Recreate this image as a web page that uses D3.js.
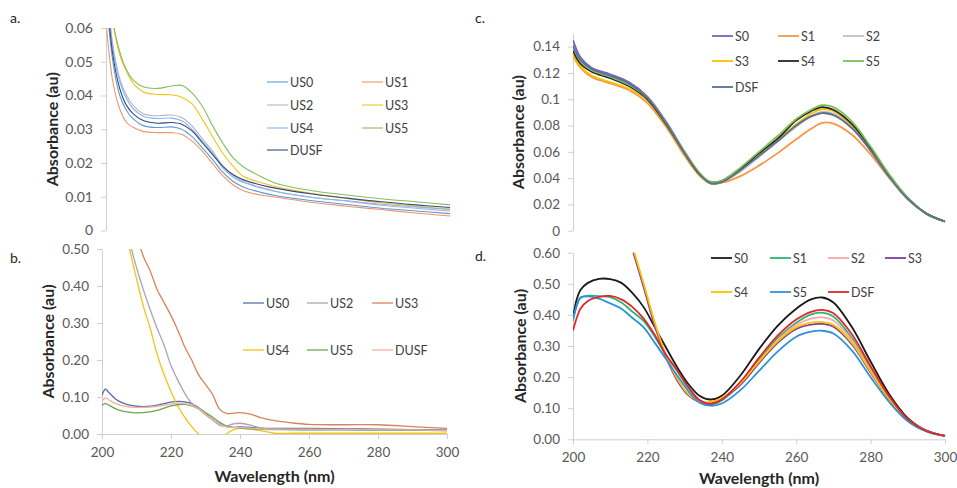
<!DOCTYPE html>
<html>
<head>
<meta charset="UTF-8">
<title>Absorbance spectra</title>
<script src="https://cdnjs.cloudflare.com/ajax/libs/d3/7.8.5/d3.min.js"></script>
<style>
body { margin: 0; background: #fff; }
svg text { font-family: Lato, "Open Sans", sans-serif; }
</style>
</head>
<body>
<svg id="chart" width="957" height="488"></svg>
<script>
// ---- panel a ----
var wlA = [200, 202, 204, 206, 208, 211, 215, 219, 222, 225, 228, 231, 234, 237, 240, 245, 250, 260, 270, 280, 290, 300];
var aUS0 = [0.070, 0.050, 0.040, 0.0355, 0.033, 0.031, 0.0305, 0.0307, 0.030, 0.0278, 0.0245, 0.021, 0.0172, 0.0145, 0.0128, 0.0113, 0.0102, 0.0088, 0.0077, 0.0066, 0.0058, 0.0050];
var aUS1 = [0.062, 0.044, 0.036, 0.032, 0.0305, 0.0293, 0.029, 0.029, 0.0285, 0.0265, 0.0235, 0.0198, 0.0162, 0.0135, 0.0118, 0.0105, 0.0098, 0.0083, 0.0072, 0.0062, 0.0052, 0.0043];
var aUS2 = [0.075, 0.055, 0.045, 0.040, 0.037, 0.0345, 0.034, 0.0342, 0.0335, 0.031, 0.0272, 0.0235, 0.019, 0.0162, 0.0145, 0.0128, 0.0115, 0.0098, 0.0087, 0.0075, 0.0066, 0.0058];
var aUS3 = [0.085, 0.062, 0.052, 0.047, 0.0435, 0.041, 0.0403, 0.0402, 0.0395, 0.0375, 0.033, 0.0278, 0.0228, 0.019, 0.016, 0.0142, 0.0128, 0.011, 0.0095, 0.0082, 0.0072, 0.0064];
var aUS4 = [0.075, 0.054, 0.044, 0.039, 0.036, 0.0338, 0.0332, 0.0333, 0.0325, 0.030, 0.0265, 0.0228, 0.0185, 0.0158, 0.0142, 0.0126, 0.0114, 0.0098, 0.0088, 0.0078, 0.007, 0.0062];
var aUS5 = [0.085, 0.062, 0.053, 0.0475, 0.0445, 0.0425, 0.0421, 0.0428, 0.043, 0.0408, 0.0368, 0.031, 0.0258, 0.0215, 0.0188, 0.016, 0.0138, 0.0118, 0.0105, 0.0094, 0.0085, 0.0076];
var aDUSF = [0.072, 0.052, 0.042, 0.037, 0.0345, 0.0325, 0.0318, 0.032, 0.0315, 0.0295, 0.026, 0.0225, 0.019, 0.0165, 0.015, 0.0135, 0.0124, 0.0108, 0.0096, 0.0085, 0.0076, 0.0068];
var namesA = ["US0", "US1", "US2", "US3", "US4", "US5", "DUSF"];
var colorsA = ["#5b9bd5", "#f0956a", "#b4b4c8", "#f2c31c", "#8ab6e6", "#86bd5e", "#34497f"];
var ticksA = [0, 0.01, 0.02, 0.03, 0.04, 0.05, 0.06];
var tickLabelsA = ["0", "0.01", "0.02", "0.03", "0.04", "0.05", "0.06"];

// ---- panel b ----
var wlB = [200, 201, 202, 204, 206, 208, 210, 212, 214, 216, 218, 220, 222, 224, 226, 228, 230, 232, 234, 236, 238, 240, 243, 246, 250, 255, 260, 270, 280, 290, 300];
var bUS0 = [0.105, 0.121, 0.112, 0.094, 0.084, 0.078, 0.075, 0.074, 0.075, 0.078, 0.082, 0.086, 0.088, 0.087, 0.082, 0.071, 0.057, 0.040, 0.027, 0.020, 0.018, 0.019, 0.018, 0.016, 0.015, 0.015, 0.015, 0.014, 0.013, 0.012, 0.011];
var bUS2 = [1.0, 0.9, 0.82, 0.70, 0.60, 0.52, 0.45, 0.39, 0.335, 0.285, 0.24, 0.185, 0.145, 0.11, 0.083, 0.068, 0.052, 0.038, 0.024, 0.022, 0.027, 0.029, 0.024, 0.016, 0.013, 0.012, 0.012, 0.012, 0.011, 0.010, 0.009];
var bUS3 = [1.0, 0.95, 0.9, 0.8, 0.7, 0.62, 0.54, 0.48, 0.44, 0.39, 0.355, 0.32, 0.28, 0.235, 0.2, 0.16, 0.134, 0.108, 0.068, 0.056, 0.056, 0.058, 0.054, 0.044, 0.036, 0.03, 0.026, 0.025, 0.025, 0.02, 0.015];
var bUS4 = [1.0, 0.9, 0.82, 0.70, 0.60, 0.50, 0.42, 0.345, 0.285, 0.215, 0.16, 0.115, 0.075, 0.045, 0.02, 0.0, -0.015, -0.02, -0.015, 0.0, 0.011, 0.015, 0.013, 0.009, 0.002, 0.002, 0.002, 0.002, 0.002, 0.002, 0.002];
var bUS5 = [0.078, 0.082, 0.078, 0.068, 0.062, 0.059, 0.057, 0.058, 0.060, 0.064, 0.070, 0.076, 0.079, 0.080, 0.076, 0.068, 0.058, 0.046, 0.032, 0.022, 0.018, 0.016, 0.014, 0.013, 0.012, 0.012, 0.011, 0.011, 0.010, 0.010, 0.009];
var bDUSF = [0.090, 0.097, 0.092, 0.082, 0.076, 0.073, 0.072, 0.072, 0.073, 0.075, 0.078, 0.081, 0.083, 0.082, 0.078, 0.068, 0.055, 0.040, 0.027, 0.020, 0.017, 0.017, 0.016, 0.014, 0.013, 0.013, 0.013, 0.012, 0.011, 0.011, 0.010];
var namesB = ["US0", "US2", "US3", "US4", "US5", "DUSF"];
var colorsB = ["#5470a8", "#a6a6ba", "#d9825b", "#f0c419", "#6aa84f", "#f4b0a0"];
var ticksB = [0, 0.1, 0.2, 0.3, 0.4, 0.5];
var tickLabelsB = ["0.00", "0.10", "0.20", "0.30", "0.40", "0.50"];

// ---- panel c ----
var wlC = [200, 202, 205, 210, 215, 220, 225, 230, 234, 237, 240, 245, 250, 255, 260, 264, 267, 270, 275, 280, 285, 290, 295, 300];
var cS0 = [0.145, 0.132, 0.124, 0.119, 0.113, 0.102, 0.083, 0.060, 0.043, 0.036, 0.037, 0.046, 0.057, 0.068, 0.080, 0.087, 0.0895, 0.088, 0.078, 0.061, 0.041, 0.024, 0.013, 0.007];
var cS1 = [0.133, 0.124, 0.117, 0.112, 0.107, 0.097, 0.079, 0.057, 0.042, 0.036, 0.0365, 0.0415, 0.0495, 0.059, 0.0695, 0.0775, 0.082, 0.0815, 0.073, 0.058, 0.040, 0.024, 0.013, 0.007];
var cS2 = [0.138, 0.128, 0.122, 0.117, 0.111, 0.101, 0.082, 0.059, 0.043, 0.036, 0.037, 0.045, 0.056, 0.068, 0.079, 0.087, 0.0905, 0.089, 0.079, 0.062, 0.041, 0.024, 0.013, 0.007];
var cS3 = [0.134, 0.125, 0.118, 0.113, 0.108, 0.099, 0.080, 0.058, 0.042, 0.036, 0.037, 0.046, 0.058, 0.069, 0.081, 0.089, 0.0925, 0.091, 0.080, 0.063, 0.042, 0.025, 0.013, 0.007];
var cS4 = [0.137, 0.127, 0.121, 0.116, 0.110, 0.100, 0.081, 0.059, 0.043, 0.037, 0.038, 0.047, 0.059, 0.070, 0.084, 0.091, 0.094, 0.092, 0.081, 0.063, 0.042, 0.025, 0.013, 0.007];
var cS5 = [0.140, 0.129, 0.122, 0.117, 0.111, 0.101, 0.082, 0.060, 0.044, 0.037, 0.038, 0.048, 0.060, 0.072, 0.085, 0.092, 0.0955, 0.094, 0.083, 0.064, 0.043, 0.025, 0.013, 0.007];
var cDSF = [0.141, 0.130, 0.123, 0.118, 0.112, 0.101, 0.082, 0.059, 0.043, 0.036, 0.037, 0.046, 0.057, 0.068, 0.080, 0.087, 0.0895, 0.088, 0.078, 0.061, 0.041, 0.024, 0.013, 0.007];
var namesC = ["S0", "S1", "S2", "S3", "S4", "S5", "DSF"];
var colorsC = ["#7f5fc4", "#f79646", "#c0c0c0", "#ffc000", "#262626", "#7cc05a", "#5a7190"];
var ticksC = [0, 0.02, 0.04, 0.06, 0.08, 0.1, 0.12, 0.14];
var tickLabelsC = ["0", "0.02", "0.04", "0.06", "0.08", "0.1", "0.12", "0.14"];

// ---- panel d ----
var wlD = [200, 201, 202, 204, 207, 210, 213, 216, 219, 222, 225, 228, 231, 234, 237, 240, 245, 250, 255, 260, 264, 267, 270, 275, 280, 285, 290, 295, 300];
var dS0 = [0.39, 0.45, 0.48, 0.503, 0.516, 0.515, 0.503, 0.47, 0.425, 0.36, 0.295, 0.232, 0.178, 0.14, 0.128, 0.14, 0.205, 0.29, 0.365, 0.42, 0.45, 0.456, 0.44, 0.36, 0.25, 0.145, 0.068, 0.028, 0.011];
var dS1 = [0.38, 0.43, 0.455, 0.462, 0.46, 0.457, 0.44, 0.41, 0.38, 0.33, 0.27, 0.22, 0.165, 0.125, 0.113, 0.125, 0.18, 0.255, 0.325, 0.375, 0.402, 0.407, 0.395, 0.325, 0.228, 0.135, 0.064, 0.027, 0.011];
var dS2 = [1.3, 1.25, 1.2, 1.1, 0.96, 0.85, 0.73, 0.61, 0.49, 0.365, 0.265, 0.19, 0.142, 0.12, 0.118, 0.13, 0.178, 0.25, 0.318, 0.368, 0.388, 0.392, 0.382, 0.318, 0.222, 0.131, 0.062, 0.026, 0.011];
var dS3 = [1.3, 1.25, 1.2, 1.1, 0.96, 0.85, 0.73, 0.61, 0.49, 0.365, 0.265, 0.19, 0.142, 0.12, 0.118, 0.13, 0.175, 0.245, 0.31, 0.355, 0.369, 0.371, 0.362, 0.305, 0.215, 0.128, 0.061, 0.026, 0.011];
var dS4 = [1.32, 1.27, 1.22, 1.12, 0.98, 0.87, 0.745, 0.62, 0.50, 0.375, 0.27, 0.195, 0.145, 0.122, 0.12, 0.133, 0.18, 0.25, 0.315, 0.36, 0.375, 0.377, 0.368, 0.31, 0.218, 0.13, 0.062, 0.026, 0.011];
var dS5 = [0.385, 0.43, 0.455, 0.46, 0.452, 0.437, 0.42, 0.39, 0.36, 0.31, 0.258, 0.205, 0.155, 0.118, 0.108, 0.115, 0.158, 0.22, 0.282, 0.33, 0.346, 0.349, 0.34, 0.285, 0.2, 0.12, 0.058, 0.025, 0.01];
var dDSF = [0.35, 0.39, 0.42, 0.445, 0.458, 0.461, 0.45, 0.425, 0.388, 0.335, 0.272, 0.222, 0.168, 0.126, 0.114, 0.128, 0.185, 0.262, 0.333, 0.385, 0.41, 0.416, 0.405, 0.337, 0.235, 0.138, 0.064, 0.027, 0.011];
var namesD = ["S0", "S1", "S2", "S3", "S4", "S5", "DSF"];
var colorsD = ["#1a1a1a", "#2bb673", "#f7a8a8", "#7b3f9e", "#ffc000", "#2d93d8", "#e3262c"];
var ticksD = [0, 0.1, 0.2, 0.3, 0.4, 0.5, 0.6];
var tickLabelsD = ["0.00", "0.10", "0.20", "0.30", "0.40", "0.50", "0.60"];

var xTicks = [200, 220, 240, 260, 280, 300];

var svg = d3.select("#chart");

function drawPanel(p) {
	var x = d3.scaleLinear().domain([200, 300]).range([p.left, p.right]);
	var y = d3.scaleLinear().domain([0, p.ymax]).range([p.bottom, p.top]);

	var clipId = "clip" + p.id;
	svg.append("clipPath").attr("id", clipId)
		.append("rect")
		.attr("x", p.left).attr("y", p.top)
		.attr("width", p.right - p.left + 2).attr("height", p.bottom - p.top);

	// y axis
	var yAxis = d3.axisLeft(y)
		.tickValues(p.ticks)
		.tickFormat(function(d, i) { return p.tickLabels[i]; })
		.tickSize(5).tickSizeOuter(0).tickPadding(8);
	var gy = svg.append("g").attr("transform", "translate(" + p.left + ",0)").call(yAxis);
	gy.select(".domain").attr("stroke", "#d0d0d0");
	gy.selectAll(".tick line").attr("stroke", "#d0d0d0");
	gy.selectAll(".tick text").attr("fill", "#595959").style("font-size", p.tickFont + "px");

	// x axis only on the bottom panels
	if (p.xAxis) {
		var xAxis = d3.axisBottom(x).tickValues(xTicks).tickSize(5).tickSizeOuter(0).tickPadding(8);
		var gx = svg.append("g").attr("transform", "translate(0," + p.bottom + ")").call(xAxis);
		gx.select(".domain").attr("stroke", "#d0d0d0");
		gx.selectAll(".tick line").attr("stroke", "#d0d0d0");
		gx.selectAll(".tick text").attr("fill", "#595959").style("font-size", p.tickFont + "px");
		svg.append("text")
			.attr("x", (p.left + p.right) / 2).attr("y", p.xTitleY)
			.attr("text-anchor", "middle")
			.attr("fill", "#262626").style("font-size", "16px").style("font-weight", "bold")
			.text("Wavelength (nm)");
	}

	svg.append("text")
		.attr("transform", "translate(" + p.yTitleX + "," + ((p.top + p.bottom) / 2) + ") rotate(-90)")
		.attr("text-anchor", "middle")
		.attr("fill", "#262626").style("font-size", "16px").style("font-weight", "bold")
		.text("Absorbance (au)");

	svg.append("text")
		.attr("x", p.labelX).attr("y", p.labelY)
		.attr("fill", "#262626").style("font-size", "14px")
		.text(p.label);

	var line = d3.line()
		.x(function(d) { return x(d[0]); })
		.y(function(d) { return y(d[1]); })
		.curve(d3.curveCatmullRom.alpha(0.5));

	var g = svg.append("g").attr("clip-path", "url(#" + clipId + ")");
	p.series.forEach(function(s, i) {
		g.append("path")
			.datum(s.map(function(v, j) { return [p.wl[j], v]; }))
			.attr("fill", "none")
			.attr("stroke", p.colors[i])
			.attr("stroke-width", p.lineWidth)
			.attr("d", line);
	});

	// legend
	p.names.forEach(function(n, i) {
		var col = i % p.legCols.length, row = Math.floor(i / p.legCols.length);
		var lx = p.legCols[col], ly = p.legRows[row];
		svg.append("line")
			.attr("x1", lx).attr("x2", lx + 21).attr("y1", ly).attr("y2", ly)
			.attr("stroke", p.colors[i]).attr("stroke-width", p.lineWidth);
		svg.append("text")
			.attr("x", lx + 23).attr("y", ly).attr("dy", "0.36em")
			.attr("fill", "#404040").style("font-size", "12.5px")
			.text(n);
	});
}

drawPanel({
	id: "a", label: "a.", labelX: 10, labelY: 23,
	left: 106, right: 450, top: 28, bottom: 230.5, ymax: 0.06,
	ticks: ticksA, tickLabels: tickLabelsA, tickFont: 14, xAxis: false,
	yTitleX: 58, wl: wlA,
	series: [aUS0, aUS1, aUS2, aUS3, aUS4, aUS5, aDUSF],
	names: namesA, colors: colorsA, lineWidth: 1.1,
	legCols: [267, 362], legRows: [82, 105, 128, 150]
});

drawPanel({
	id: "b", label: "b.", labelX: 10, labelY: 263,
	left: 102, right: 447, top: 249, bottom: 434, ymax: 0.5,
	ticks: ticksB, tickLabels: tickLabelsB, tickFont: 13.5, xAxis: true, xTitleY: 482,
	yTitleX: 54, wl: wlB,
	series: [bUS0, bUS2, bUS3, bUS4, bUS5, bDUSF],
	names: namesB, colors: colorsB, lineWidth: 1.3,
	legCols: [243, 307, 372], legRows: [303, 350]
});

drawPanel({
	id: "c", label: "c.", labelX: 475, labelY: 23,
	left: 573, right: 945, top: 33.5, bottom: 230.7, ymax: 0.15,
	ticks: ticksC, tickLabels: tickLabelsC, tickFont: 13.5, xAxis: false,
	yTitleX: 524, wl: wlC,
	series: [cS0, cS1, cS2, cS3, cS4, cS5, cDSF],
	names: namesC, colors: colorsC, lineWidth: 1.8,
	legCols: [712, 778, 843], legRows: [36, 61, 87]
});

drawPanel({
	id: "d", label: "d.", labelX: 475, labelY: 261,
	left: 573, right: 945, top: 252.7, bottom: 439.3, ymax: 0.6,
	ticks: ticksD, tickLabels: tickLabelsD, tickFont: 13.5, xAxis: true, xTitleY: 484,
	yTitleX: 526, wl: wlD,
	series: [dS0, dS1, dS2, dS3, dS4, dS5, dDSF],
	names: namesD, colors: colorsD, lineWidth: 1.8,
	legCols: [711, 770, 828, 885], legRows: [258, 292]
});
</script>
</body>
</html>
